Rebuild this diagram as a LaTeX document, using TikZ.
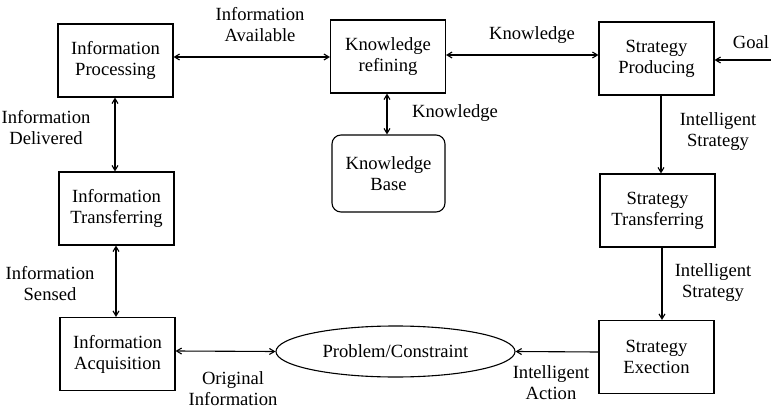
\documentclass[tikz,border=0pt]{standalone}
\usepackage{fontspec}
\setmainfont{Liberation Serif}
\usetikzlibrary{arrows.meta,shapes.geometric}
\begin{document}
\begin{tikzpicture}[x=1pt,y=-1pt,
  font=\fontsize{18.6}{21}\selectfont,
  blk/.style={draw,line width=1.1pt,minimum width=115pt,minimum height=73pt,align=center,inner sep=0pt},
  rblk/.style={blk,rounded corners=9pt,minimum width=113pt,minimum height=77pt},
  oval/.style={draw,line width=1.1pt,ellipse,minimum width=239pt,minimum height=51pt,inner sep=0pt},
  lbl/.style={align=center,inner sep=0pt},
  conn/.style={line width=1.1pt,-{Straight Barb[length=5pt,width=6pt]}},
  bconn/.style={line width=1.1pt,{Straight Barb[length=5pt,width=6pt]}-{Straight Barb[length=5pt,width=6pt]}}]
\useasboundingbox (0,0) rectangle (771,417);
\node[blk] (ip) at (115.5,60.5) {Information\\Processing};
\node[blk] (kr) at (388,56.5) {Knowledge\\refining};
\node[blk] (sp) at (656.5,58.5) {Strategy\\Producing};
\node[rblk] (kb) at (388.5,173.5) {Knowledge\\Base};
\node[blk] (it) at (116.5,208.5) {Information\\Transferring};
\node[blk] (ia) at (117.5,354) {Information\\Acquisition};
\node[oval] (pc) at (395.5,351.5) {Problem/Constraint};
\node[blk] (st) at (657.5,210.5) {Strategy\\Transferring};
\node[blk] (se) at (656.5,357) {Strategy\\Exection};
\coordinate (goal) at (771,60);

\draw[bconn] (ip.east |- 0,57) -- (kr.west |- 0,57);
\draw[bconn] (kr.east |- 0,55) -- (sp.west |- 0,55);
\draw[conn] (goal) -- (sp.east |- goal);
\draw[bconn] (kr.south -| 387,0) -- (kb.north -| 387,0);
\draw[bconn] (ip.south -| 115,0) -- (it.north -| 115,0);
\draw[bconn] (it.south -| 116,0) -- (ia.north -| 116,0);
\draw[bconn] (ia.east |- 0,351) -- (pc.west);
\draw[conn] (sp.south -| 661,0) -- (st.north -| 661,0);
\draw[conn] (st.south -| 662,0) -- (se.north -| 662,0);
\draw[conn] (se.west |- 0,352) -- (pc.east);

\node[lbl] at (260,25) {Information\\Available};
\node[lbl] at (532,35) {Knowledge};
\node[lbl] at (751,42) {Goal};
\node[lbl] at (455,113) {Knowledge};
\node[lbl] at (46,128) {Information\\Delivered};
\node[lbl] at (50,284) {Information\\Sensed};
\node[lbl] at (233,389) {Original\\Information};
\node[lbl] at (718,132) {Intelligent\\Strategy};
\node[lbl] at (713,283) {Intelligent\\Strategy};
\node[lbl] at (551,383) {Intelligent\\Action};
\end{tikzpicture}
\end{document}
